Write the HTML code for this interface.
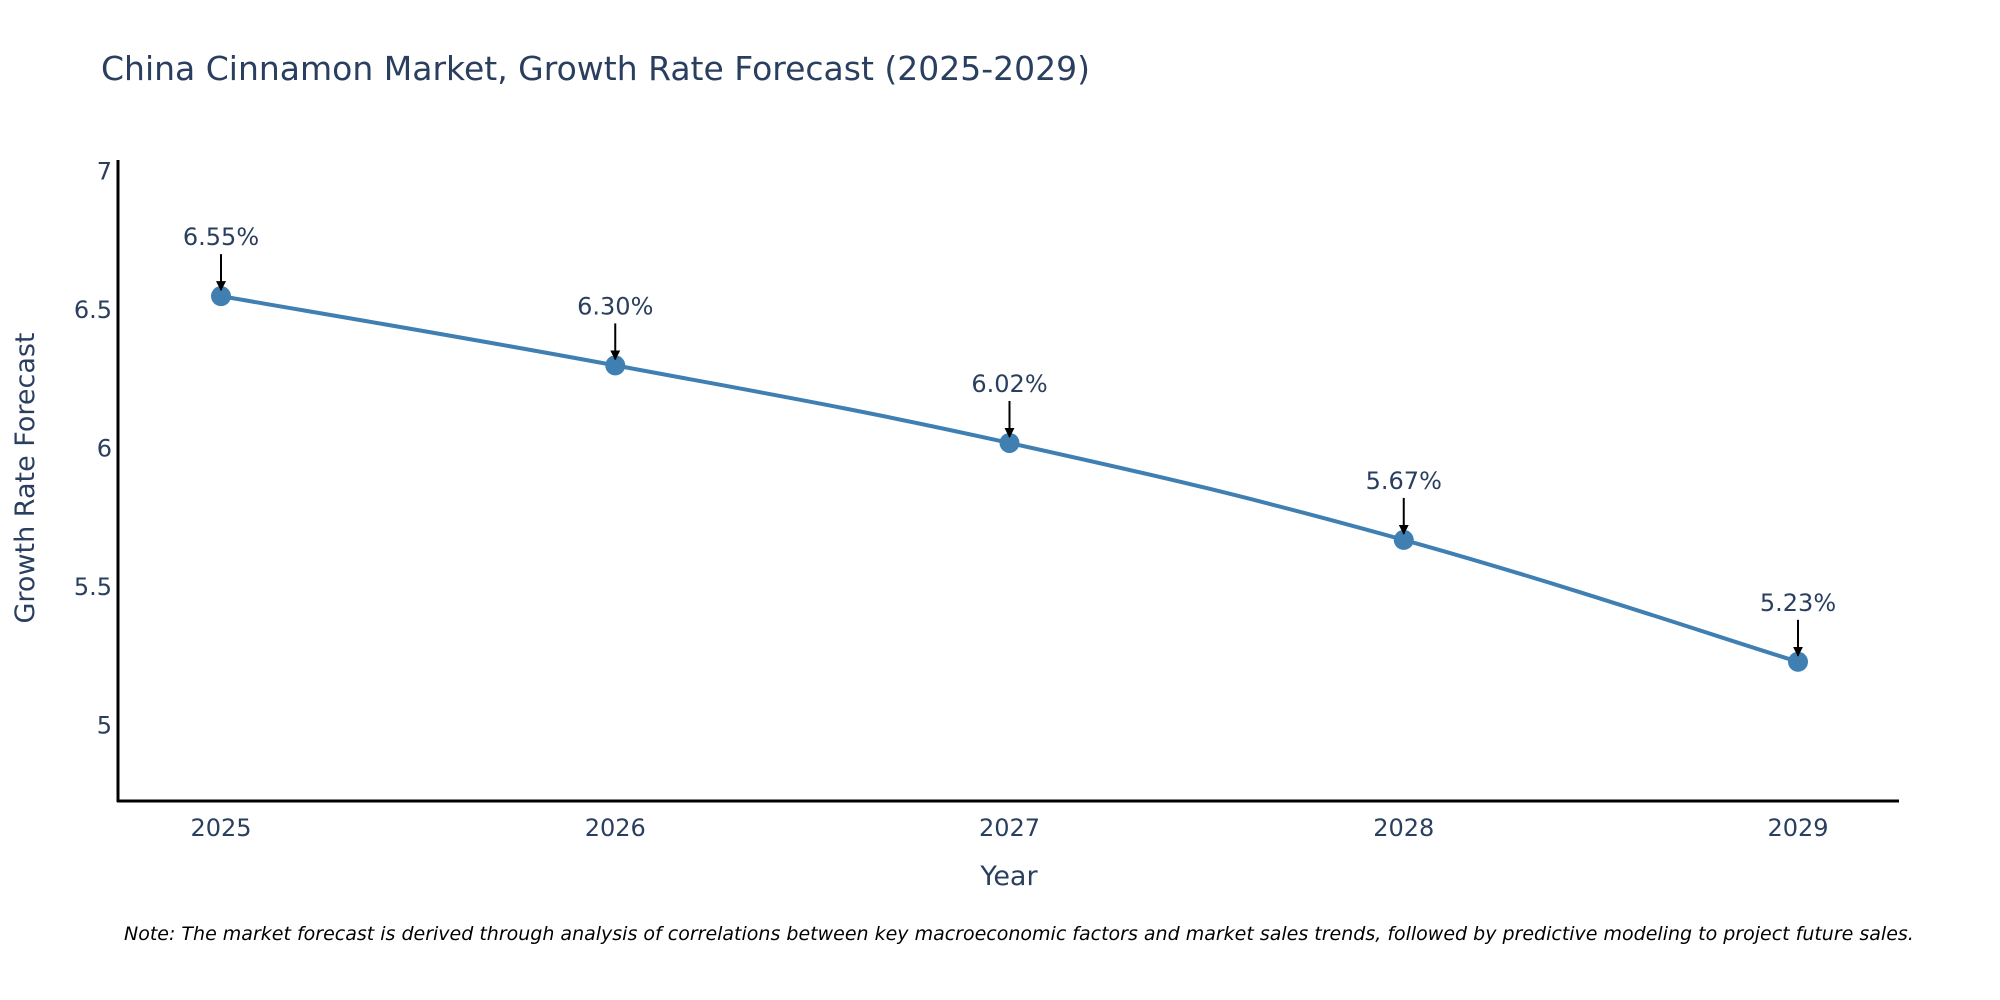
<!DOCTYPE html>
<html><head><meta charset="utf-8"><style>
html,body{margin:0;padding:0;background:#fff;}
svg{display:block;font-family:"DejaVu Sans","Liberation Sans",sans-serif;}
</style></head><body>
<svg id="chart" width="2000" height="1000" viewBox="0 0 2000 1000">
<defs><marker id="ah" viewBox="0 0 10 10" refX="9" refY="5" markerWidth="5" markerHeight="5" markerUnits="strokeWidth" orient="auto"><path d="M0,0 L10,5 L0,10 z" fill="#000"/></marker></defs>
<text x="101" y="80" font-size="33" fill="#2a3f5f">China Cinnamon Market, Growth Rate Forecast (2025-2029)</text>
<g id="yticks"></g><g id="xticks"></g>
<line x1="118" y1="160" x2="118" y2="802" stroke="#000" stroke-width="3"/>
<line x1="117" y1="801" x2="1899" y2="801" stroke="#000" stroke-width="3"/>
<text transform="translate(34,478) rotate(-90)" text-anchor="middle" font-size="27" fill="#2a3f5f">Growth Rate Forecast</text>
<text x="1009" y="885" text-anchor="middle" font-size="27" fill="#2a3f5f">Year</text>
<g id="series"></g>
<text x="124" y="940" font-size="19" font-style="italic" fill="#000">Note: The market forecast is derived through analysis of correlations between key macroeconomic factors and market sales trends, followed by predictive modeling to project future sales.</text>
</svg>
<script>
const years = [2025, 2026, 2027, 2028, 2029];
const values = [6.55, 6.30, 6.02, 5.67, 5.23];
const labels = ["6.55%", "6.30%", "6.02%", "5.67%", "5.23%"];
const yTicks = [5, 5.5, 6, 6.5, 7];
const yTickLabels = ["5", "5.5", "6", "6.5", "7"];

const NS = "http://www.w3.org/2000/svg";
function xs(yr){ return 221 + (yr - 2025) * 394.25; }
function ys(v){ return 310 - (v - 6.5) * 277; }
function mk(tag, attrs, parent){ const e = document.createElementNS(NS, tag); for (const k in attrs) e.setAttribute(k, attrs[k]); parent.appendChild(e); return e; }

const yt = document.getElementById('yticks');
yTicks.forEach((v, i) => {
  const t = mk('text', {x: 112, y: ys(v) + 8, 'text-anchor': 'end', 'font-size': 24, fill: '#2a3f5f'}, yt);
  
  
  t.textContent = yTickLabels[i];
});
const xt = document.getElementById('xticks');
years.forEach(yr => {
  const t = mk('text', {x: xs(yr), y: 836, 'text-anchor': 'middle', 'font-size': 24, fill: '#2a3f5f'}, xt);
  
  
  t.textContent = String(yr);
});

const g = document.getElementById('series');
const pts = years.map((yr, i) => [xs(yr), ys(values[i])]);
let d = `M${pts[0][0]},${pts[0][1]}`;
for (let i = 0; i < pts.length - 1; i++) {
  const p0 = pts[Math.max(0, i - 1)], p1 = pts[i], p2 = pts[i + 1], p3 = pts[Math.min(pts.length - 1, i + 2)];
  const k = 0.2;
  d += ` C${p1[0] + (p2[0] - p0[0]) * k},${p1[1] + (p2[1] - p0[1]) * k} ${p2[0] - (p3[0] - p1[0]) * k},${p2[1] - (p3[1] - p1[1]) * k} ${p2[0]},${p2[1]}`;
}
const line = mk('path', {d: d, fill: 'none', stroke: '#3f7fb2', 'stroke-width': 4}, g);


pts.forEach((p, i) => {
  const c = mk('circle', {cx: p[0], cy: p[1], r: 10, fill: '#3f7fb2'}, g);
  
  
  const a = mk('line', {x1: p[0], y1: p[1] - 42, x2: p[0], y2: p[1] - 6, stroke: '#000', 'stroke-width': 2, 'marker-end': 'url(#ah)'}, g);
  
  
  const t = mk('text', {x: p[0], y: p[1] - 51, 'text-anchor': 'middle', 'font-size': 24, fill: '#2a3f5f'}, g);
  
  
  t.textContent = labels[i];
});
</script>
</body></html>
